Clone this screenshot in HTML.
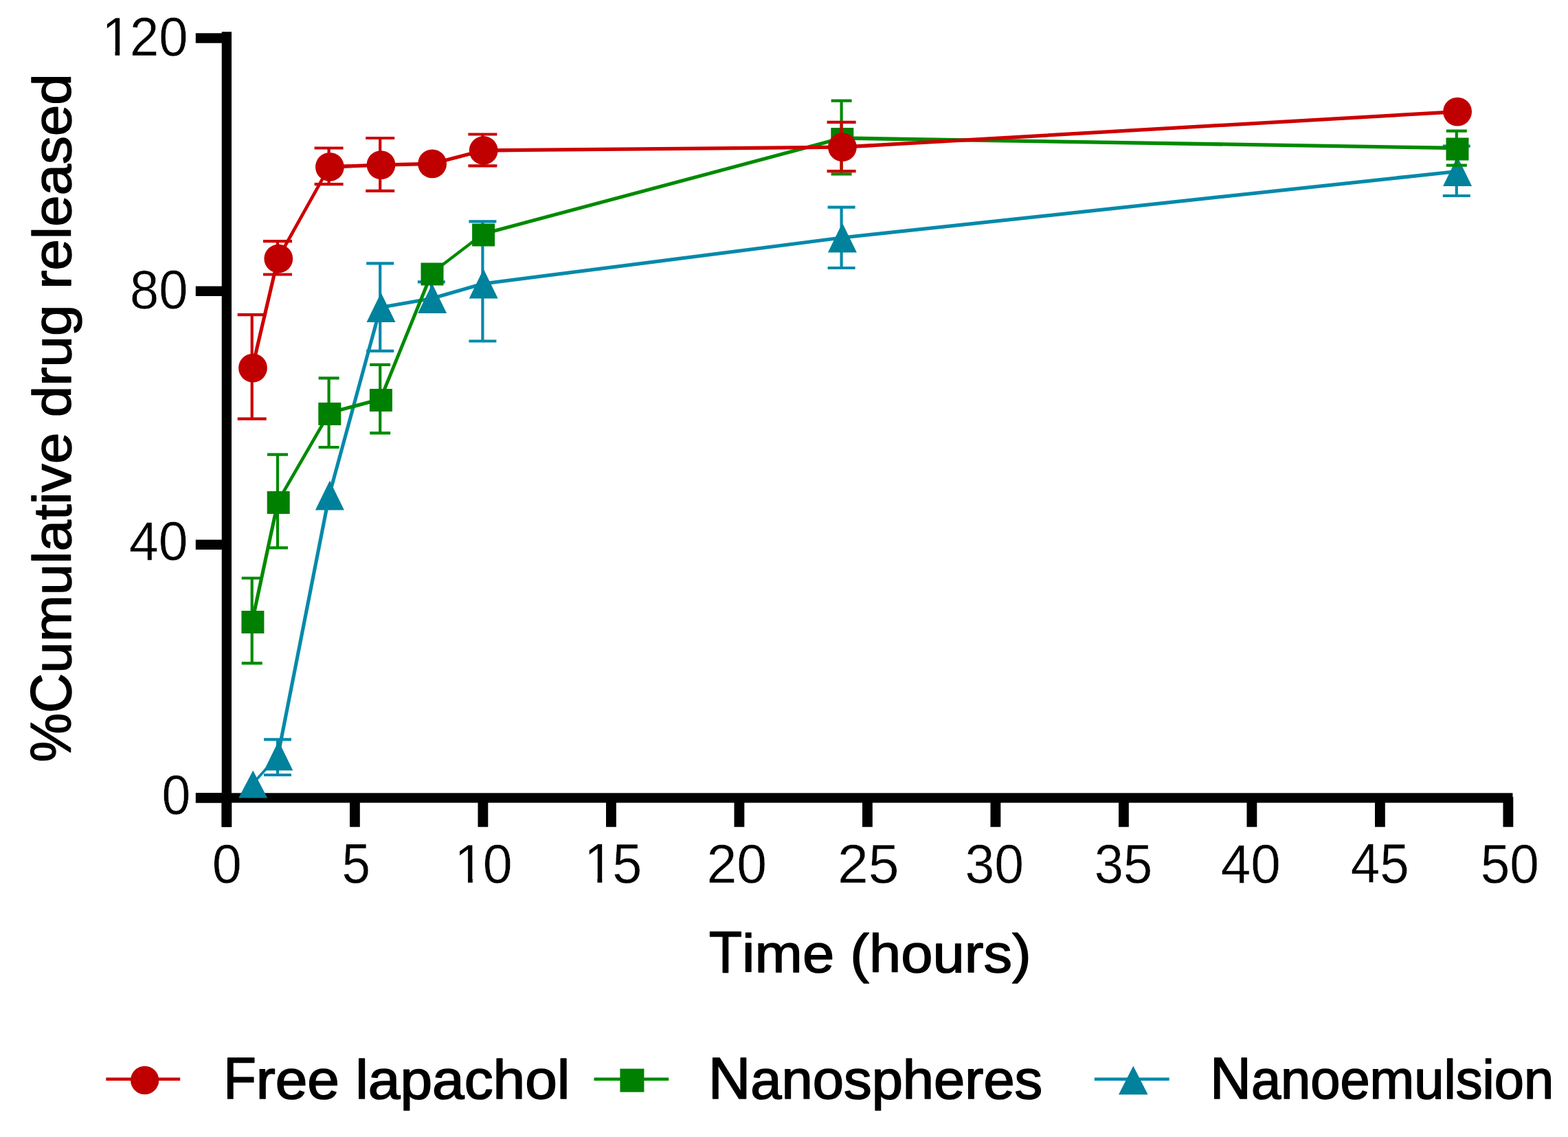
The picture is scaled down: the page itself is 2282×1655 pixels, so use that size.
<!DOCTYPE html>
<html><head><meta charset="utf-8"><title>Cumulative drug release</title>
<style>html,body{margin:0;padding:0;background:#fff;overflow:hidden;}svg{display:block;}</style></head>
<body><svg width="2282" height="1655" viewBox="0 0 2282 1655">
<rect width="2282" height="1655" fill="#fff"/>
<rect x="322.7" y="46.3" width="14.3" height="1157.4" fill="#000"/>
<rect x="285" y="1154.3" width="1916.5" height="14.2" fill="#000"/>
<rect x="284.8" y="48.3" width="40" height="14.4" fill="#000"/>
<rect x="284.8" y="416.6" width="40" height="14.4" fill="#000"/>
<rect x="284.8" y="785.6" width="40" height="14.4" fill="#000"/>
<rect x="284.8" y="1154.1" width="40" height="14.4" fill="#000"/>
<rect x="322.5" y="1160" width="14.8" height="43.7" fill="#000"/>
<rect x="509.0" y="1160" width="14.8" height="43.7" fill="#000"/>
<rect x="695.5" y="1160" width="14.8" height="43.7" fill="#000"/>
<rect x="882.0" y="1160" width="14.8" height="43.7" fill="#000"/>
<rect x="1068.5" y="1160" width="14.8" height="43.7" fill="#000"/>
<rect x="1255.0" y="1160" width="14.8" height="43.7" fill="#000"/>
<rect x="1441.5" y="1160" width="14.8" height="43.7" fill="#000"/>
<rect x="1628.0" y="1160" width="14.8" height="43.7" fill="#000"/>
<rect x="1814.5" y="1160" width="14.8" height="43.7" fill="#000"/>
<rect x="2001.0" y="1160" width="14.8" height="43.7" fill="#000"/>
<rect x="2187.5" y="1160" width="14.8" height="43.7" fill="#000"/>
<g fill="none" stroke="#0589aa" stroke-linecap="round"><path d="M367.2 1141.5L404.5 1100.0" stroke-width="3.94"/><path d="M404.5 1100.0L479.1 721.0" stroke-width="5.20"/><path d="M479.1 721.0L553.7 447.5" stroke-width="5.11"/><path d="M553.7 447.5L628.3 434.5" stroke-width="5.22"/><path d="M628.3 434.5L702.9 413.0" stroke-width="5.09"/><path d="M702.9 413.0L1225.1 346.0" stroke-width="5.26"/><path d="M1225.1 346.0L2120.3 249.5" stroke-width="5.27"/></g>
<path d="M404.0 1100.0V1076.3M384.0 1076.3H424.0M404.0 1100.0V1128.0M384.0 1128.0H424.0" stroke="#0589aa" stroke-width="4.2" fill="none"/>
<path d="M553.2 447.5V383.4M533.2 383.4H573.2M553.2 447.5V510.8M533.2 510.8H573.2" stroke="#0589aa" stroke-width="4.2" fill="none"/>
<path d="M627.8 434.5V410.3M607.8 410.3H647.8" stroke="#0589aa" stroke-width="4.2" fill="none"/>
<path d="M702.4 413.0V322.3M682.4 322.3H722.4M702.4 413.0V496.5M682.4 496.5H722.4" stroke="#0589aa" stroke-width="4.2" fill="none"/>
<path d="M1224.6 346.0V301.7M1204.6 301.7H1244.6M1224.6 346.0V390.0M1204.6 390.0H1244.6" stroke="#0589aa" stroke-width="4.2" fill="none"/>
<path d="M2119.8 249.5V212.7M2099.8 212.7H2139.8M2119.8 249.5V285.0M2099.8 285.0H2139.8" stroke="#0589aa" stroke-width="4.2" fill="none"/>
<path d="M368.2 1121.5L389.2 1161.5H347.2Z" fill="#00819c"/>
<path d="M405.3 1078.6L426.3 1121.4H384.3Z" fill="#00819c"/>
<path d="M479.9 699.6L500.9 742.4H458.9Z" fill="#00819c"/>
<path d="M554.5 426.1L575.5 468.9H533.5Z" fill="#00819c"/>
<path d="M629.1 413.1L650.1 455.9H608.1Z" fill="#00819c"/>
<path d="M703.7 391.6L724.7 434.4H682.7Z" fill="#00819c"/>
<path d="M1225.9 324.6L1246.9 367.4H1204.9Z" fill="#00819c"/>
<path d="M2121.1 228.1L2142.1 270.9H2100.1Z" fill="#00819c"/>
<g fill="none" stroke="#008a00" stroke-linecap="round"><path d="M367.2 904.0L404.5 730.0" stroke-width="5.18"/><path d="M404.5 730.0L479.1 601.0" stroke-width="4.59"/><path d="M479.1 601.0L553.7 581.0" stroke-width="5.12"/><path d="M553.7 581.0L628.3 397.5" stroke-width="4.91"/><path d="M628.3 397.5L702.9 340.5" stroke-width="4.21"/><path d="M702.9 340.5L1225.1 201.0" stroke-width="5.12"/><path d="M1225.1 201.0L2120.3 215.5" stroke-width="5.30"/></g>
<path d="M366.7 904.0V841.5M351.7 841.5H381.7M366.7 904.0V965.4M351.7 965.4H381.7" stroke="#008a00" stroke-width="4.2" fill="none"/>
<path d="M404.0 730.0V661.7M389.0 661.7H419.0M404.0 730.0V797.4M389.0 797.4H419.0" stroke="#008a00" stroke-width="4.2" fill="none"/>
<path d="M478.6 601.0V550.4M463.6 550.4H493.6M478.6 601.0V651.0M463.6 651.0H493.6" stroke="#008a00" stroke-width="4.2" fill="none"/>
<path d="M553.2 581.0V530.9M538.2 530.9H568.2M553.2 581.0V630.4M538.2 630.4H568.2" stroke="#008a00" stroke-width="4.2" fill="none"/>
<path d="M1224.6 201.0V146.7M1209.6 146.7H1239.6M1224.6 201.0V253.4M1209.6 253.4H1239.6" stroke="#008a00" stroke-width="4.2" fill="none"/>
<path d="M2119.8 215.5V190.7M2104.8 190.7H2134.8M2119.8 215.5V240.6M2104.8 240.6H2134.8" stroke="#008a00" stroke-width="4.2" fill="none"/>
<rect x="351.4" y="889.0" width="33.0" height="33.0" fill="#008000"/>
<rect x="388.7" y="715.0" width="33.0" height="33.0" fill="#008000"/>
<rect x="463.3" y="586.0" width="33.0" height="33.0" fill="#008000"/>
<rect x="537.9" y="566.0" width="33.0" height="33.0" fill="#008000"/>
<rect x="612.5" y="382.5" width="33.0" height="33.0" fill="#008000"/>
<rect x="687.1" y="325.5" width="33.0" height="33.0" fill="#008000"/>
<rect x="1209.3" y="186.0" width="33.0" height="33.0" fill="#008000"/>
<rect x="2104.5" y="200.5" width="33.0" height="33.0" fill="#008000"/>
<g fill="none" stroke="#cc0000" stroke-linecap="round"><path d="M367.2 535.6L404.5 376.5" stroke-width="5.16"/><path d="M404.5 376.5L479.1 242.9" stroke-width="4.63"/><path d="M479.1 242.9L553.7 240.1" stroke-width="5.30"/><path d="M553.7 240.1L628.3 238.4" stroke-width="5.30"/><path d="M628.3 238.4L702.9 219.0" stroke-width="5.13"/><path d="M702.9 219.0L1225.1 214.2" stroke-width="5.30"/><path d="M1225.1 214.2L2120.3 162.6" stroke-width="5.29"/></g>
<path d="M366.7 535.6V458.2M345.7 458.2H387.7M366.7 535.6V609.6M345.7 609.6H387.7" stroke="#cc0000" stroke-width="4.2" fill="none"/>
<path d="M404.0 376.5V351.1M383.0 351.1H425.0M404.0 376.5V399.5M383.0 399.5H425.0" stroke="#cc0000" stroke-width="4.2" fill="none"/>
<path d="M478.6 242.9V215.5M457.6 215.5H499.6M478.6 242.9V268.1M457.6 268.1H499.6" stroke="#cc0000" stroke-width="4.2" fill="none"/>
<path d="M553.2 240.1V201.0M532.2 201.0H574.2M553.2 240.1V277.8M532.2 277.8H574.2" stroke="#cc0000" stroke-width="4.2" fill="none"/>
<path d="M702.4 219.0V195.5M681.4 195.5H723.4M702.4 219.0V241.4M681.4 241.4H723.4" stroke="#cc0000" stroke-width="4.2" fill="none"/>
<path d="M1224.6 214.2V177.9M1203.6 177.9H1245.6M1224.6 214.2V249.2M1203.6 249.2H1245.6" stroke="#cc0000" stroke-width="4.2" fill="none"/>
<circle cx="368.0" cy="535.6" r="20.9" fill="#c00000"/>
<circle cx="405.3" cy="376.5" r="20.9" fill="#c00000"/>
<circle cx="479.9" cy="242.9" r="20.9" fill="#c00000"/>
<circle cx="554.5" cy="240.1" r="20.9" fill="#c00000"/>
<circle cx="629.1" cy="238.4" r="20.9" fill="#c00000"/>
<circle cx="703.7" cy="219.0" r="20.9" fill="#c00000"/>
<circle cx="1225.9" cy="214.2" r="20.9" fill="#c00000"/>
<circle cx="2121.1" cy="162.6" r="20.9" fill="#c00000"/>
<g transform="translate(146.69 80.51) scale(0.9613 1)"><text font-size="79.01" stroke="#fff" stroke-width="0.42" stroke-linejoin="round" font-family="Liberation Sans, Arial, sans-serif"><tspan dx="1.77">1</tspan><tspan dx="-1.77">20</tspan></text><rect x="5.63" y="-6.37" width="16.01" height="8.68" fill="#fff"/><rect x="28.62" y="-6.37" width="14.62" height="8.68" fill="#fff"/></g>
<text transform="translate(188.98 449.21) scale(0.9575 1)" font-size="79.30" stroke="#fff" stroke-width="0.42" stroke-linejoin="round" font-family="Liberation Sans, Arial, sans-serif">80</text>
<text transform="translate(188.08 815.21) scale(0.9663 1)" font-size="79.44" stroke="#fff" stroke-width="0.41" stroke-linejoin="round" font-family="Liberation Sans, Arial, sans-serif">40</text>
<text transform="translate(235.39 1184.69) scale(0.9313 1)" font-size="80.70" stroke="#fff" stroke-width="0.43" stroke-linejoin="round" font-family="Liberation Sans, Arial, sans-serif">0</text>
<text transform="translate(308.71 1284.70) scale(0.9658 1)" font-size="80.00" stroke="#fff" stroke-width="0.41" stroke-linejoin="round" font-family="Liberation Sans, Arial, sans-serif">0</text>
<text transform="translate(497.51 1284.69) scale(0.9211 1)" font-size="81.14" stroke="#fff" stroke-width="0.43" stroke-linejoin="round" font-family="Liberation Sans, Arial, sans-serif">5</text>
<g transform="translate(659.88 1284.70) scale(0.9642 1)"><text font-size="80.00" stroke="#fff" stroke-width="0.41" stroke-linejoin="round" font-family="Liberation Sans, Arial, sans-serif"><tspan dx="1.76">1</tspan><tspan dx="-1.76">0</tspan></text><rect x="5.67" y="-6.45" width="16.21" height="8.79" fill="#fff"/><rect x="28.95" y="-6.45" width="14.80" height="8.79" fill="#fff"/></g>
<g transform="translate(848.24 1284.69) scale(0.9555 1)"><text font-size="81.14" stroke="#fff" stroke-width="0.42" stroke-linejoin="round" font-family="Liberation Sans, Arial, sans-serif"><tspan dx="1.78">1</tspan><tspan dx="-1.78">5</tspan></text><rect x="5.74" y="-6.54" width="16.44" height="8.91" fill="#fff"/><rect x="29.36" y="-6.54" width="15.02" height="8.91" fill="#fff"/></g>
<text transform="translate(1028.46 1284.70) scale(0.9854 1)" font-size="80.00" stroke="#fff" stroke-width="0.41" stroke-linejoin="round" font-family="Liberation Sans, Arial, sans-serif">20</text>
<text transform="translate(1218.97 1284.70) scale(1.0074 1)" font-size="80.00" stroke="#fff" stroke-width="0.40" stroke-linejoin="round" font-family="Liberation Sans, Arial, sans-serif">25</text>
<text transform="translate(1404.52 1284.70) scale(0.9626 1)" font-size="80.00" stroke="#fff" stroke-width="0.42" stroke-linejoin="round" font-family="Liberation Sans, Arial, sans-serif">30</text>
<text transform="translate(1592.76 1284.70) scale(0.9490 1)" font-size="80.00" stroke="#fff" stroke-width="0.42" stroke-linejoin="round" font-family="Liberation Sans, Arial, sans-serif">35</text>
<text transform="translate(1776.64 1284.70) scale(0.9786 1)" font-size="80.00" stroke="#fff" stroke-width="0.41" stroke-linejoin="round" font-family="Liberation Sans, Arial, sans-serif">40</text>
<text transform="translate(1965.69 1284.69) scale(0.9423 1)" font-size="81.14" stroke="#fff" stroke-width="0.42" stroke-linejoin="round" font-family="Liberation Sans, Arial, sans-serif">45</text>
<text transform="translate(2154.74 1284.70) scale(0.9577 1)" font-size="80.00" stroke="#fff" stroke-width="0.42" stroke-linejoin="round" font-family="Liberation Sans, Arial, sans-serif">50</text>
<text transform="translate(1031.77 1414.65)" font-size="85.36" stroke="#000" stroke-width="1.50" stroke-linejoin="round" font-family="Liberation Sans, Arial, sans-serif"><tspan textLength="48.33" lengthAdjust="spacingAndGlyphs">T</tspan><tspan font-size="78.36" textLength="420.68" lengthAdjust="spacingAndGlyphs">ime (hours)</tspan></text>
<text transform="translate(103.45 1109.47) rotate(-90)" font-size="84.00" stroke="#000" stroke-width="1.50" stroke-linejoin="round" font-family="Liberation Sans, Arial, sans-serif"><tspan textLength="129.75" lengthAdjust="spacingAndGlyphs">&#37;C</tspan><tspan font-size="77.11" textLength="872.42" lengthAdjust="spacingAndGlyphs">umulative drug released</tspan></text>
<path d="M154.3 1570.8H262.2" stroke="#cc0000" stroke-width="4.6"/>
<circle cx="210.65" cy="1572.4" r="20.6" fill="#c00000"/>
<text transform="translate(325.21 1598.75)" font-size="85.80" stroke="#000" stroke-width="1.70" stroke-linejoin="round" font-family="Liberation Sans, Arial, sans-serif"><tspan textLength="47.62" lengthAdjust="spacingAndGlyphs">F</tspan><tspan font-size="78.76" textLength="456.54" lengthAdjust="spacingAndGlyphs">ree lapachol</tspan></text>
<path d="M864.5 1570.8H973.2" stroke="#008a00" stroke-width="4.6"/>
<rect x="902.4" y="1555.6" width="35" height="34" fill="#008000"/>
<text transform="translate(1030.72 1598.75)" font-size="85.80" stroke="#000" stroke-width="1.70" stroke-linejoin="round" font-family="Liberation Sans, Arial, sans-serif"><tspan textLength="61.64" lengthAdjust="spacingAndGlyphs">N</tspan><tspan font-size="78.76" textLength="424.92" lengthAdjust="spacingAndGlyphs">anospheres</tspan></text>
<path d="M1592.8 1570.8H1701.7" stroke="#0589aa" stroke-width="4.6"/>
<path d="M1649.3 1551.4L1670.6 1593.3H1628Z" fill="#00819c"/>
<text transform="translate(1760.91 1598.75)" font-size="85.80" stroke="#000" stroke-width="1.70" stroke-linejoin="round" font-family="Liberation Sans, Arial, sans-serif"><tspan textLength="59.97" lengthAdjust="spacingAndGlyphs">N</tspan><tspan font-size="78.76" textLength="440.26" lengthAdjust="spacingAndGlyphs">anoemulsion</tspan></text>
</svg></body></html>
